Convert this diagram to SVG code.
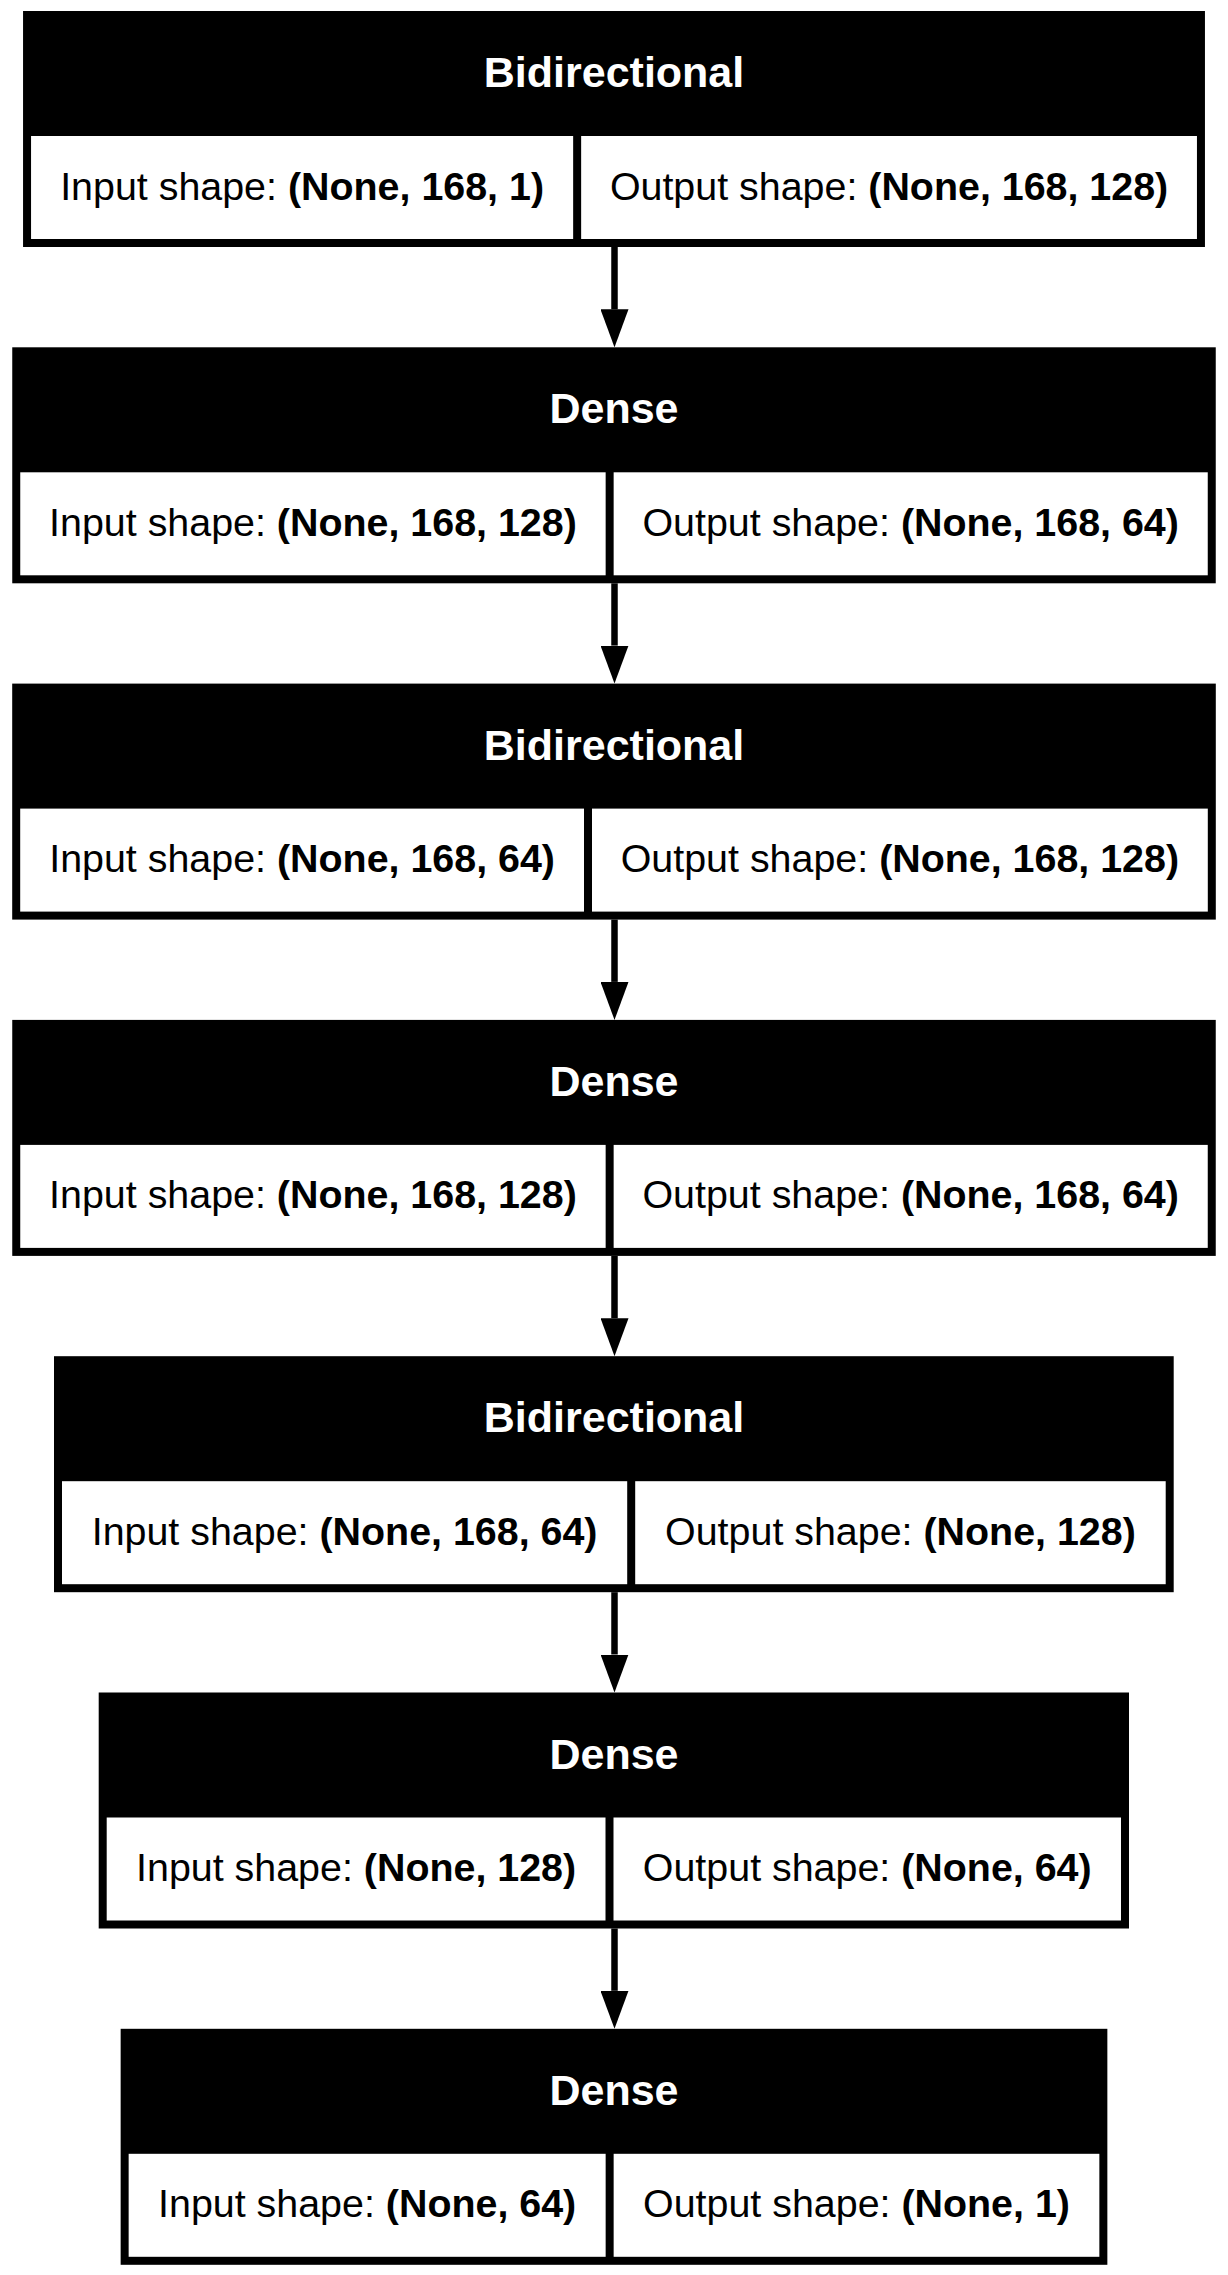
<svg xmlns="http://www.w3.org/2000/svg" width="1228" height="2275" viewBox="0 0 1228 2275">
<style>
.frame{fill:#000}
.cell{fill:#fff}
.hdr{font-family:"Liberation Sans",Arial,Helvetica,sans-serif;font-weight:bold;font-size:43px;fill:#fff;text-anchor:middle}
.txt{font-family:"Liberation Sans",Arial,Helvetica,sans-serif;font-size:39.4px;fill:#000;text-anchor:middle}
.b{font-weight:bold}
.edge{stroke:#000;stroke-width:6.5;fill:none}
</style>
<defs>
<marker id="ah" markerUnits="userSpaceOnUse" viewBox="0 0 38 28" refX="0" refY="14" markerWidth="38" markerHeight="28" orient="auto">
<path d="M0,0 L38,14 L0,28 z" fill="#000"/>
</marker>
</defs>
<rect width="1228" height="2275" fill="#fff"/>
<g id="connectors">
<line class="edge" x1="614.5" y1="247" x2="614.5" y2="309.3" marker-end="url(#ah)"/>
<line class="edge" x1="614.5" y1="583.3" x2="614.5" y2="645.6" marker-end="url(#ah)"/>
<line class="edge" x1="614.5" y1="919.6" x2="614.5" y2="981.9" marker-end="url(#ah)"/>
<line class="edge" x1="614.5" y1="1255.9" x2="614.5" y2="1318.2" marker-end="url(#ah)"/>
<line class="edge" x1="614.5" y1="1592.2" x2="614.5" y2="1654.5" marker-end="url(#ah)"/>
<line class="edge" x1="614.5" y1="1928.5" x2="614.5" y2="1990.8" marker-end="url(#ah)"/>
</g>
<g id="node1">
<rect class="frame" x="23.05" y="11" width="1181.9" height="236"/>
<rect class="cell" x="31.05" y="136" width="542.1" height="103"/>
<rect class="cell" x="581.15" y="136" width="615.8" height="103"/>
<text class="hdr" x="614" y="87">Bidirectional</text>
<text class="txt" x="302.1" y="199.5">Input shape: <tspan class="b">(None, 168, 1)</tspan></text>
<text class="txt" x="889.05" y="199.5">Output shape: <tspan class="b">(None, 168, 128)</tspan></text>
</g>
<g id="node2">
<rect class="frame" x="12.25" y="347.3" width="1203.5" height="236"/>
<rect class="cell" x="20.25" y="472.3" width="585.4" height="103"/>
<rect class="cell" x="613.65" y="472.3" width="594.1" height="103"/>
<text class="hdr" x="614" y="423.3">Dense</text>
<text class="txt" x="312.95" y="535.8">Input shape: <tspan class="b">(None, 168, 128)</tspan></text>
<text class="txt" x="910.7" y="535.8">Output shape: <tspan class="b">(None, 168, 64)</tspan></text>
</g>
<g id="node3">
<rect class="frame" x="12.2" y="683.6" width="1203.6" height="236"/>
<rect class="cell" x="20.2" y="808.6" width="563.8" height="103"/>
<rect class="cell" x="592" y="808.6" width="615.8" height="103"/>
<text class="hdr" x="614" y="759.6">Bidirectional</text>
<text class="txt" x="302.1" y="872.1">Input shape: <tspan class="b">(None, 168, 64)</tspan></text>
<text class="txt" x="899.9" y="872.1">Output shape: <tspan class="b">(None, 168, 128)</tspan></text>
</g>
<g id="node4">
<rect class="frame" x="12.25" y="1019.9" width="1203.5" height="236"/>
<rect class="cell" x="20.25" y="1144.9" width="585.4" height="103"/>
<rect class="cell" x="613.65" y="1144.9" width="594.1" height="103"/>
<text class="hdr" x="614" y="1095.9">Dense</text>
<text class="txt" x="312.95" y="1208.4">Input shape: <tspan class="b">(None, 168, 128)</tspan></text>
<text class="txt" x="910.7" y="1208.4">Output shape: <tspan class="b">(None, 168, 64)</tspan></text>
</g>
<g id="node5">
<rect class="frame" x="54" y="1356.2" width="1119.7" height="236"/>
<rect class="cell" x="62" y="1481.2" width="565.2" height="103"/>
<rect class="cell" x="635.2" y="1481.2" width="530.5" height="103"/>
<text class="hdr" x="614" y="1432.2">Bidirectional</text>
<text class="txt" x="344.6" y="1544.7">Input shape: <tspan class="b">(None, 168, 64)</tspan></text>
<text class="txt" x="900.45" y="1544.7">Output shape: <tspan class="b">(None, 128)</tspan></text>
</g>
<g id="node6">
<rect class="frame" x="98.7" y="1692.5" width="1030.3" height="236"/>
<rect class="cell" x="106.7" y="1817.5" width="498.8" height="103"/>
<rect class="cell" x="613.5" y="1817.5" width="507.5" height="103"/>
<text class="hdr" x="614" y="1768.5">Dense</text>
<text class="txt" x="356.1" y="1881">Input shape: <tspan class="b">(None, 128)</tspan></text>
<text class="txt" x="867.25" y="1881">Output shape: <tspan class="b">(None, 64)</tspan></text>
</g>
<g id="node7">
<rect class="frame" x="120.65" y="2028.8" width="986.7" height="236"/>
<rect class="cell" x="128.65" y="2153.8" width="477" height="103"/>
<rect class="cell" x="613.65" y="2153.8" width="485.7" height="103"/>
<text class="hdr" x="614" y="2104.8">Dense</text>
<text class="txt" x="367.15" y="2217.3">Input shape: <tspan class="b">(None, 64)</tspan></text>
<text class="txt" x="856.5" y="2217.3">Output shape: <tspan class="b">(None, 1)</tspan></text>
</g>
</svg>
